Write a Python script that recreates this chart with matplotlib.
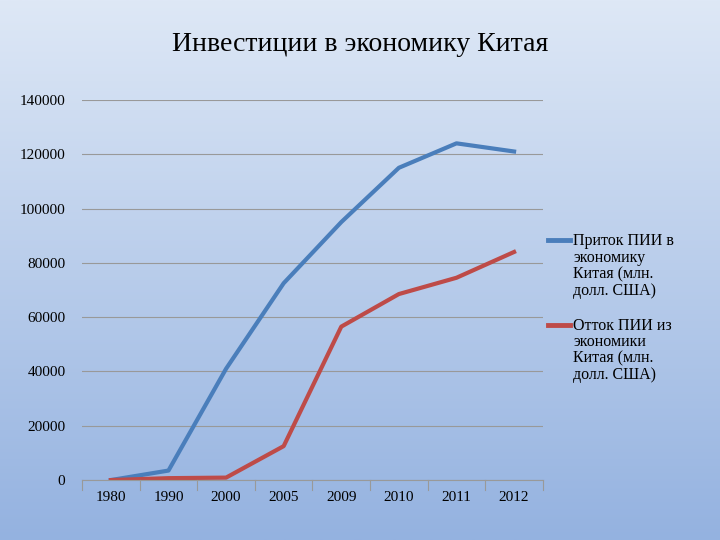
import matplotlib
matplotlib.use('Agg')
import matplotlib.pyplot as plt
from matplotlib.lines import Line2D
import numpy as np

years = ['1980', '1990', '2000', '2005', '2009', '2010', '2011', '2012']
inflow = [0, 3500, 41000, 72500, 95000, 115000, 124000, 121000]
outflow = [0, 700, 900, 12500, 56500, 68500, 74500, 84000]
labels = ['Приток ПИИ в\nэкономику\nКитая (млн.\nдолл. США)',
          'Отток ПИИ из\nэкономики\nКитая (млн.\nдолл. США)']
colors = ['#4a7ebb', '#be4b48']

plt.rcParams['font.family'] = ['Liberation Serif', 'DejaVu Serif']

fig = plt.figure(figsize=(7.2, 5.4), dpi=100)

# slide background gradient
bg = fig.add_axes([0, 0, 1, 1])
top = np.array([222, 232, 246]) / 255
bot = np.array([148, 178, 224]) / 255
t = np.linspace(0, 1, 256)[:, None]
grad = top * (1 - t) + bot * t
bg.imshow(grad[:, None, :], aspect='auto', extent=[0, 1, 0, 1])
bg.axis('off')

fig.text(0.5, 0.917, 'Инвестиции в экономику Китая', ha='center', va='center',
         fontsize=20)

ax = fig.add_axes([0.114, 0.111, 0.64, 0.704])
ax.patch.set_alpha(0)
x = np.arange(len(years))
ax.plot(x, inflow, color=colors[0], lw=3)
ax.plot(x, outflow, color=colors[1], lw=3)
ax.set_xlim(-0.5, len(years) - 0.5)
ax.set_ylim(0, 140000)
ax.set_yticks(range(0, 140001, 20000))
ax.set_xticks(x)
ax.set_xticklabels(years)
ax.grid(axis='y', color='#999999', lw=0.8)
ax.set_axisbelow(True)
for s in ['top', 'right', 'left']:
    ax.spines[s].set_visible(False)
ax.spines['bottom'].set_color('#999999')
ax.tick_params(axis='y', length=0, labelsize=11, pad=12)
ax.tick_params(axis='x', length=0, labelsize=11, pad=8)
for i in range(len(years) + 1):
    ax.plot([i - 0.5, i - 0.5], [0, -3500], color='#999999', lw=0.8, clip_on=False)

# legend drawn by hand: handle aligned with the first text line
for lab, c, ytop in zip(labels, colors, [0.568, 0.412]):
    fig.add_artist(Line2D([0.761, 0.792], [ytop - 0.013, ytop - 0.013],
                          color=c, lw=3.5, transform=fig.transFigure))
    fig.text(0.796, ytop, lab, ha='left', va='top', fontsize=11.5, linespacing=1.05)

fig.savefig('out.png', dpi=100)
